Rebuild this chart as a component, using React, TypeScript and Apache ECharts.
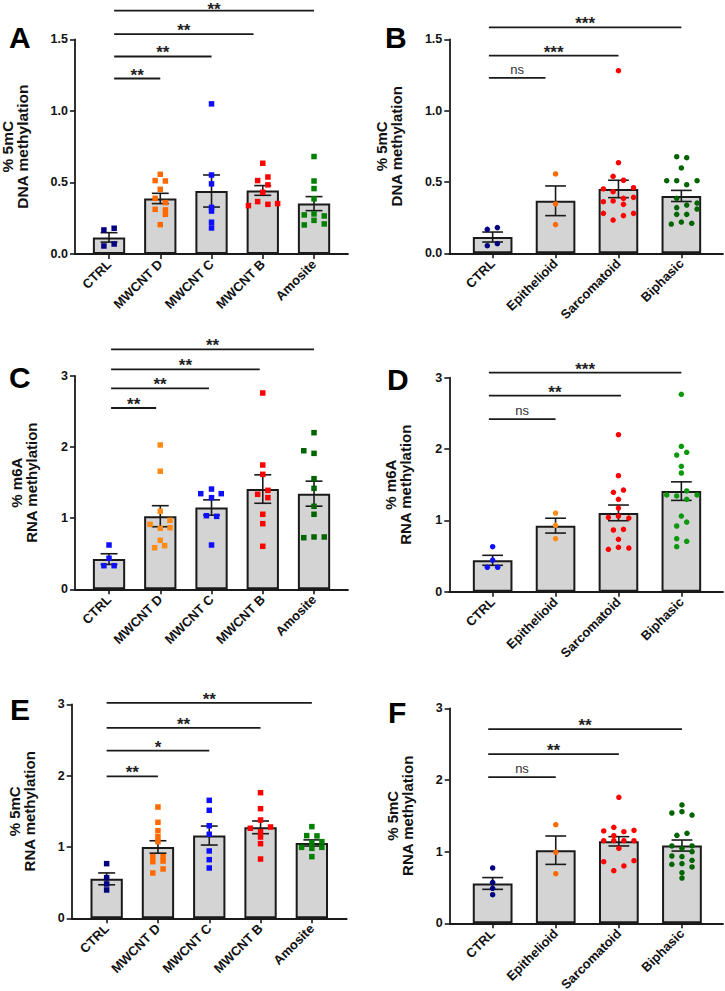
import React, { useEffect, useRef } from 'react';
import * as echarts from 'echarts';

// ---------- categories ----------
const catsMwcnt = ['CTRL', 'MWCNT D', 'MWCNT C', 'MWCNT B', 'Amosite'];
const catsTumor = ['CTRL', 'Epithelioid', 'Sarcomatoid', 'Biphasic'];

// ---------- panel A: % 5mC DNA methylation (exposure) ----------
const meansA = [0.116, 0.388, 0.44, 0.444, 0.352];
const semA = [0.033, 0.036, 0.112, 0.034, 0.049];
const pointsA = [
  [0.168, 0.18, 0.056, 0.07],
  [0.557, 0.513, 0.51, 0.452, 0.389, 0.359, 0.312, 0.308, 0.277, 0.205],
  [1.049, 0.552, 0.49, 0.326, 0.3, 0.222, 0.182],
  [0.634, 0.513, 0.538, 0.483, 0.431, 0.366, 0.347, 0.338, 0.352],
  [0.681, 0.51, 0.457, 0.385, 0.273, 0.28, 0.266, 0.235, 0.203, 0.21],
];
const jitterA = [
  [-0.1, 0.1, -0.1, 0.1],
  [0, -0.1, 0.1, 0, -0.1, 0.1, -0.1, 0.1, 0.1, 0],
  [0, 0, 0, 0, 0, 0, 0],
  [0, -0.1, 0.1, 0.1, 0, -0.1, 0.1, -0.28, 0.29],
  [0, 0, 0, 0, -0.19, 0, 0.2, 0, -0.19, 0.2],
];
const sigLabelsA = ['**', '**', '**', '**'];
const sigYA = [1.226, 1.38, 1.536, 1.7];
const sigEndA = [1, 2, 2.82, 4];
const sigStartA = 0.1;

// ---------- panel B: % 5mC DNA methylation (tumours) ----------
const meansB = [0.114, 0.368, 0.451, 0.402];
const semB = [0.035, 0.104, 0.061, 0.039];
const pointsB = [
  [0.168, 0.18, 0.053, 0.067],
  [0.556, 0.346, 0.201],
  [1.28, 0.635, 0.54, 0.512, 0.451, 0.432, 0.46, 0.385, 0.362, 0.367, 0.392, 0.343, 0.28, 0.264, 0.28, 0.233],
  [0.677, 0.67, 0.598, 0.509, 0.509, 0.509, 0.481, 0.385, 0.32, 0.338, 0.352, 0.31, 0.273, 0.273, 0.205, 0.219, 0.21],
];
const jitterB = [
  [-0.085, 0.075, -0.085, 0.075],
  [0, 0, 0],
  [0, 0, -0.085, 0.08, -0.24, -0.085, 0.24, 0.08, -0.24, -0.085, 0.24, 0.08, -0.24, 0.08, 0.24, -0.085],
  [-0.074, 0.085, 0, -0.233, -0.074, 0.25, 0.085, -0.074, -0.074, 0.085, 0.25, 0.25, -0.074, 0.085, -0.16, 0, 0.165],
];
const sigLabelsB = ['ns', '***', '***'];
const sigYB = [1.23, 1.385, 1.584];
const sigEndB = [0.84, 2, 3];
const sigStartB = -0.06;

// ---------- panel C: % m6A RNA methylation (exposure) ----------
const meansC = [0.425, 1.028, 1.15, 1.41, 1.345];
const semC = [0.075, 0.148, 0.108, 0.2, 0.176];
const pointsC = [
  [0.623, 0.436, 0.332, 0.332],
  [2.03, 1.66, 1.097, 0.914, 0.97, 0.858, 0.866, 0.689, 0.585, 0.613],
  [1.345, 1.41, 1.345, 1.289, 1.035, 1.026, 0.623],
  [2.761, 1.748, 1.617, 1.336, 1.392, 1.289, 1.055, 0.923, 0.605],
  [2.203, 1.949, 1.912, 1.556, 1.42, 1.167, 1.055, 0.726, 0.736, 0.736],
];
const jitterC = [
  [0, 0, -0.1, 0.1],
  [0, 0, 0, -0.2, 0.19, 0, 0.19, 0, -0.11, 0.085],
  [-0.21, 0, 0.19, 0, -0.1, 0.1, 0],
  [0, 0, 0, -0.1, 0.1, 0.1, 0, 0, 0],
  [0, -0.2, 0, 0, 0, 0, 0, -0.2, 0, 0.2],
];
const sigLabelsC = ['**', '**', '**', '**'];
const sigYC = [2.55, 2.827, 3.094, 3.375];
const sigEndC = [0.92, 1.95, 2.94, 4];
const sigStartC = 0.04;

// ---------- panel D: % m6A RNA methylation (tumours) ----------
const meansD = [0.44, 0.926, 1.105, 1.41];
const semD = [0.07, 0.104, 0.11, 0.13];
const pointsD = [
  [0.631, 0.444, 0.342, 0.342],
  [1.103, 0.931, 0.743],
  [2.201, 1.626, 1.393, 1.425, 1.295, 1.173, 1.043, 1.061, 1.033, 0.865, 0.874, 0.734, 0.594, 0.622, 0.612],
  [2.767, 2.038, 1.916, 1.954, 1.758, 1.664, 1.356, 1.342, 1.412, 1.356, 1.295, 1.061, 0.921, 0.977, 0.743, 0.707, 0.631],
];
const jitterD = [
  [0, 0, -0.085, 0.08],
  [0, 0, 0],
  [0, 0, -0.08, 0.08, 0, 0, -0.16, 0, 0.165, -0.08, 0.08, 0, -0.16, 0, 0.165],
  [0, 0, -0.074, 0.085, 0, 0, -0.233, -0.074, 0.085, 0.25, 0.085, 0, -0.074, 0.085, -0.074, 0.085, -0.074],
];
const sigLabelsD = ['ns', '**', '***'];
const sigYD = [2.42, 2.75, 3.07];
const sigEndD = [1, 2.04, 3];
const sigStartD = -0.06;

// ---------- panel E: % 5mC RNA methylation (exposure) ----------
const meansE = [0.553, 1.0, 1.16, 1.275, 1.056];
const semE = [0.083, 0.087, 0.133, 0.089, 0.043];
const pointsE = [
  [0.766, 0.57, 0.481, 0.397],
  [1.56, 1.346, 1.228, 1.144, 1.074, 0.864, 0.864, 0.794, 0.803, 0.691, 0.635],
  [1.654, 1.514, 1.298, 1.178, 0.944, 0.822, 0.705],
  [1.761, 1.537, 1.378, 1.262, 1.28, 1.215, 1.14, 1.046, 0.831],
  [1.285, 1.159, 1.155, 1.074, 1.06, 0.995, 0.981, 0.995, 0.864],
];
const jitterE = [
  [0, 0, 0, 0],
  [0, 0, 0, 0, 0, -0.1, 0.1, -0.1, 0.1, 0.1, -0.1],
  [0, 0, 0, 0, 0, 0, 0],
  [0, 0, 0, -0.2, 0.195, 0, 0, 0, 0],
  [0, -0.1, 0.1, 0.195, 0, -0.2, 0, 0.195, 0],
];
const sigLabelsE = ['**', '*', '**', '**'];
const sigYE = [1.99, 2.35, 2.67, 3.02];
const sigEndE = [1, 2, 3, 4];
const sigStartE = 0;

// ---------- panel F: % 5mC RNA methylation (tumours) ----------
const meansF = [0.556, 1.02, 1.144, 1.085];
const semF = [0.082, 0.198, 0.065, 0.077];
const pointsF = [
  [0.772, 0.572, 0.488, 0.399],
  [1.376, 0.99, 0.692],
  [1.758, 1.288, 1.339, 1.278, 1.297, 1.222, 1.153, 1.153, 1.153, 1.153, 1.046, 0.86, 0.874, 0.8, 0.734],
  [1.651, 1.539, 1.557, 1.511, 1.228, 1.256, 1.079, 1.046, 1.079, 0.999, 0.939, 0.93, 0.823, 0.832, 0.879, 0.786, 0.706, 0.632],
];
const jitterF = [
  [0, 0, 0, 0],
  [0, 0, 0],
  [0, -0.24, -0.08, 0.08, 0.24, -0.08, -0.24, -0.08, 0.08, 0.24, 0, -0.24, 0.24, 0.08, -0.08],
  [0, -0.16, 0, 0.16, -0.08, 0.08, -0.16, 0, 0.16, 0.16, -0.16, 0, -0.16, 0, 0.16, 0.16, 0, 0],
];
const sigLabelsF = ['ns', '**', '**'];
const sigYF = [2.04, 2.36, 2.71];
const sigEndF = [1, 2, 3];
const sigStartF = -0.07;

// ---------- styles / layout ----------
const FONT = '"Liberation Sans", Arial, Helvetica, sans-serif';
const INK = '#1a1a1a';
const NAVY = '#000080';
const BLUE = '#0f0fff';
const ORANGE = '#ff6a00';
const ORANGE2 = '#ff8a14';
const RED = '#ff0000';
const GREEN = '#008000';
const DKGREEN = '#006400';
const GREEN2 = '#0a990a';

type Panel = {
  letter: string;
  cats: string[];
  yName: string;
  yMax: number;
  yStep: number;
  decimals: number;
  means: number[];
  sem: number[];
  points: number[][];
  jitter: number[][];
  sigLabels: string[];
  sigY: number[];
  sigEnd: number[];
  sigStart: number;
  colors: string[];
  symbol: string;
  L: {
    axisLeft: number; axisRight: number; bandLeft: number; band: number;
    top: number; y0: number; letterX: number; letterY: number; nameGap: number; nameSize: number;
  };
};

const panels: Panel[] = [
  {
    letter: 'A', cats: catsMwcnt, yName: '% 5mC\nDNA methylation', yMax: 1.5, yStep: 0.5, decimals: 1,
    means: meansA, sem: semA, points: pointsA, jitter: jitterA,
    sigLabels: sigLabelsA, sigY: sigYA, sigEnd: sigEndA, sigStart: sigStartA,
    colors: [NAVY, ORANGE, BLUE, RED, GREEN], symbol: 'rect',
    L: { axisLeft: 75, axisRight: 348, bandLeft: 83.4, band: 51.25, top: 39.3, y0: 254, letterX: 9, letterY: 22, nameGap: 45, nameSize: 15.5 },
  },
  {
    letter: 'B', cats: catsTumor, yName: '% 5mC\nDNA methylation', yMax: 1.5, yStep: 0.5, decimals: 1,
    means: meansB, sem: semB, points: pointsB, jitter: jitterB,
    sigLabels: sigLabelsB, sigY: sigYB, sigEnd: sigEndB, sigStart: sigStartB,
    colors: [NAVY, ORANGE, RED, DKGREEN], symbol: 'circle',
    L: { axisLeft: 449.3, axisRight: 723, bandLeft: 461.2, band: 62.9, top: 39.3, y0: 253.3, letterX: 385, letterY: 22, nameGap: 45, nameSize: 15 },
  },
  {
    letter: 'C', cats: catsMwcnt, yName: '% m6A\nRNA methylation', yMax: 3, yStep: 1, decimals: 0,
    means: meansC, sem: semC, points: pointsC, jitter: jitterC,
    sigLabels: sigLabelsC, sigY: sigYC, sigEnd: sigEndC, sigStart: sigStartC,
    colors: [BLUE, ORANGE2, BLUE, RED, DKGREEN], symbol: 'rect',
    L: { axisLeft: 75, axisRight: 348, bandLeft: 83.4, band: 51.25, top: 376, y0: 589.3, letterX: 9, letterY: 362, nameGap: 36, nameSize: 15 },
  },
  {
    letter: 'D', cats: catsTumor, yName: '% m6A\nRNA methylation', yMax: 3, yStep: 1, decimals: 0,
    means: meansD, sem: semD, points: pointsD, jitter: jitterD,
    sigLabels: sigLabelsD, sigY: sigYD, sigEnd: sigEndD, sigStart: sigStartD,
    colors: [BLUE, ORANGE2, RED, GREEN2], symbol: 'circle',
    L: { axisLeft: 449.3, axisRight: 723, bandLeft: 461.2, band: 62.9, top: 377.7, y0: 591.7, letterX: 387, letterY: 364, nameGap: 36, nameSize: 15 },
  },
  {
    letter: 'E', cats: catsMwcnt, yName: '% 5mC\nRNA methylation', yMax: 3, yStep: 1, decimals: 0,
    means: meansE, sem: semE, points: pointsE, jitter: jitterE,
    sigLabels: sigLabelsE, sigY: sigYE, sigEnd: sigEndE, sigStart: sigStartE,
    colors: [NAVY, ORANGE, BLUE, RED, GREEN], symbol: 'rect',
    L: { axisLeft: 71.7, axisRight: 346.7, bandLeft: 81, band: 51.3, top: 704.3, y0: 918.3, letterX: 10, letterY: 694, nameGap: 35, nameSize: 15 },
  },
  {
    letter: 'F', cats: catsTumor, yName: '% 5mC\nRNA methylation', yMax: 3, yStep: 1, decimals: 0,
    means: meansF, sem: semF, points: pointsF, jitter: jitterF,
    sigLabels: sigLabelsF, sigY: sigYF, sigEnd: sigEndF, sigStart: sigStartF,
    colors: [NAVY, ORANGE, RED, DKGREEN], symbol: 'circle',
    L: { axisLeft: 449.7, axisRight: 723, bandLeft: 461.1, band: 63.1, top: 708.3, y0: 923.3, letterX: 388, letterY: 697, nameGap: 35, nameSize: 15 },
  },
];

function buildOption() {
  const grid: any[] = [];
  const xAxis: any[] = [];
  const yAxis: any[] = [];
  const series: any[] = [];
  const graphic: any[] = [];
  const axisLine = { show: true, lineStyle: { color: INK, width: 1.8 } };

  panels.forEach((p) => {
    const L = p.L;
    const n = p.cats.length;
    const h = L.y0 - L.top;

    const dg = grid.length;
    grid.push({ left: L.bandLeft, top: L.top, width: n * L.band, height: h, containLabel: false, outerBoundsMode: 'none' });
    const cg = grid.length;
    grid.push({ left: L.axisLeft, top: L.top, width: L.axisRight - L.axisLeft, height: h, containLabel: false, outerBoundsMode: 'none' });

    const xCat = xAxis.length;
    xAxis.push({
      type: 'category', gridIndex: dg, data: p.cats,
      axisLine: { show: false },
      axisTick: { show: true, alignWithLabel: true, length: 5, lineStyle: { color: INK, width: 1.6 } },
      axisLabel: { rotate: 45, interval: 0, margin: 8, fontSize: 13, fontWeight: 'bold', color: '#111', fontFamily: FONT },
      splitLine: { show: false },
    });
    const xVal = xAxis.length;
    xAxis.push({ type: 'value', gridIndex: dg, min: -0.5, max: n - 0.5, show: false, splitLine: { show: false } });
    xAxis.push({
      type: 'value', gridIndex: cg, min: 0, max: 1, axisLine,
      axisTick: { show: false }, axisLabel: { show: false }, splitLine: { show: false },
    });

    const yData = yAxis.length;
    yAxis.push({ type: 'value', gridIndex: dg, min: 0, max: p.yMax, show: false, splitLine: { show: false } });
    yAxis.push({
      type: 'value', gridIndex: cg, min: 0, max: p.yMax, interval: p.yStep,
      axisLine,
      axisTick: { show: true, length: 5, lineStyle: { color: INK, width: 1.6 } },
      axisLabel: {
        margin: 7, fontSize: 12.5, fontWeight: 'bold', color: '#111', fontFamily: FONT,
        formatter: (v: number) => v.toFixed(p.decimals),
      },
      splitLine: { show: false },
      name: p.yName, nameLocation: 'middle', nameGap: L.nameGap, nameRotate: 90,
      nameTextStyle: { fontSize: L.nameSize, fontWeight: 'bold', color: '#111', fontFamily: FONT, lineHeight: 15 },
    });

    // bars (means)
    series.push({
      type: 'bar', xAxisIndex: xCat, yAxisIndex: yData, data: p.means, barWidth: '63%',
      itemStyle: { color: '#d4d4d4', borderColor: INK, borderWidth: 2 },
      silent: true, z: 1,
    });

    // error bars (mean ± SEM)
    series.push({
      type: 'custom', xAxisIndex: xVal, yAxisIndex: yData, clip: false, silent: true, z: 3,
      data: p.means.map((m, i) => [i, m, p.sem[i]]),
      renderItem: (params: any, api: any) => {
        const x = api.value(0), m = api.value(1), s = api.value(2);
        const top = api.coord([x, m + s]);
        const bot = api.coord([x, m - s]);
        const half = api.size([1, 0])[0] * 0.165;
        const st = { stroke: INK, lineWidth: 1.6 };
        return {
          type: 'group',
          children: [
            { type: 'line', shape: { x1: top[0], y1: top[1], x2: bot[0], y2: bot[1] }, style: st },
            { type: 'line', shape: { x1: top[0] - half, y1: top[1], x2: top[0] + half, y2: top[1] }, style: st },
            { type: 'line', shape: { x1: bot[0] - half, y1: bot[1], x2: bot[0] + half, y2: bot[1] }, style: st },
          ],
        };
      },
    });

    // individual points
    p.points.forEach((vals, i) => {
      series.push({
        type: 'scatter', xAxisIndex: xVal, yAxisIndex: yData, silent: true, z: 4,
        symbol: p.symbol, symbolSize: 5.5,
        itemStyle: { color: p.colors[i], opacity: 1 },
        data: vals.map((v, j) => [i + p.jitter[i][j], v]),
      });
    });

    // significance brackets
    series.push({
      type: 'custom', xAxisIndex: xVal, yAxisIndex: yData, clip: false, silent: true, z: 4,
      data: p.sigY.map((y, k) => [p.sigStart, p.sigEnd[k], y]),
      renderItem: (params: any, api: any) => {
        const a = api.coord([api.value(0), api.value(2)]);
        const b = api.coord([api.value(1), api.value(2)]);
        const label = p.sigLabels[params.dataIndex];
        const isNs = label === 'ns';
        const ty = Math.max(a[1] + (isNs ? -2 : 5), 18);
        return {
          type: 'group',
          children: [
            { type: 'line', shape: { x1: a[0], y1: a[1], x2: b[0], y2: b[1] }, style: { stroke: INK, lineWidth: 1.8 } },
            {
              type: 'text', x: (a[0] + b[0]) / 2, y: ty,
              style: {
                text: label, align: 'center', verticalAlign: 'bottom',
                fontSize: isNs ? 13 : 17, fontWeight: isNs ? 'normal' : 'bold',
                fontFamily: FONT, fill: isNs ? '#333' : '#222',
              },
            },
          ],
        };
      },
    });

    graphic.push({
      type: 'text', left: L.letterX, top: L.letterY,
      style: { text: p.letter, fontSize: 30, fontWeight: 'bold', fontFamily: FONT, fill: '#000' },
    });
  });

  return { animation: false, backgroundColor: '#fff', grid, xAxis, yAxis, series, graphic };
}

export default function App() {
  const ref = useRef<HTMLDivElement>(null);
  useEffect(() => {
    if (!ref.current) return;
    const chart = echarts.init(ref.current, undefined, { renderer: 'svg' });
    chart.setOption(buildOption() as any);
    return () => chart.dispose();
  }, []);
  return <div ref={ref} style={{ position: 'fixed', left: 0, top: 0, width: 725, height: 991, background: '#fff' }} />;
}
